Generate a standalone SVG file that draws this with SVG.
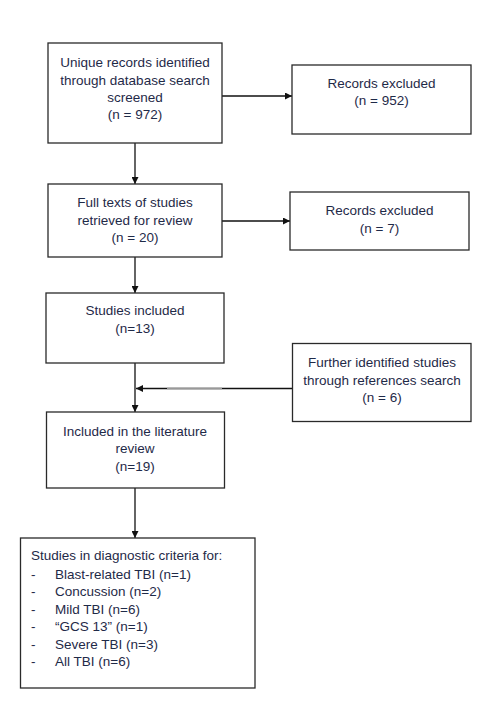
<svg xmlns="http://www.w3.org/2000/svg" width="500" height="705" viewBox="0 0 500 705">
<defs>
<style>
.box{fill:#fff;stroke:#2a2a2a;stroke-width:1.3}
text{font-family:"Liberation Sans",Arial,sans-serif;font-size:13.5px;fill:#1f2a48}
.c{text-anchor:middle}
.ln{stroke:#111;stroke-width:1.3;fill:none}
</style>
<marker id="ah" viewBox="0 0 10 10" refX="10" refY="5" markerWidth="7" markerHeight="7" markerUnits="userSpaceOnUse" orient="auto">
<path d="M0,0 L10,5 L0,10 z" fill="#111"/>
</marker>
</defs>
<rect width="500" height="705" fill="#fff"/>
<g id="connectors">
<line class="ln" x1="222" y1="96" x2="292" y2="96" marker-end="url(#ah)"/>
<line class="ln" x1="135" y1="143" x2="135" y2="184" marker-end="url(#ah)"/>
<line class="ln" x1="222" y1="221" x2="290" y2="221" marker-end="url(#ah)"/>
<line class="ln" x1="135" y1="257" x2="135" y2="293" marker-end="url(#ah)"/>
<line class="ln" x1="135" y1="363" x2="135" y2="412" marker-end="url(#ah)"/>
<line class="ln" x1="292" y1="388.5" x2="136" y2="388.5" stroke="#333" marker-end="url(#ah)"/>
<line x1="167" y1="388.5" x2="222" y2="388.5" stroke="#999" stroke-width="1.4"/>
<line class="ln" x1="135" y1="488" x2="135" y2="538" marker-end="url(#ah)"/>
</g>
<g id="n1">
<rect class="box" x="48" y="43" width="174" height="100"/>
<text class="c" x="135" y="67">Unique records identified</text>
<text class="c" x="135" y="84.5">through database search</text>
<text class="c" x="135" y="102">screened</text>
<text class="c" x="135" y="119">(n = 972)</text>
</g>
<g id="n2">
<rect class="box" x="292" y="65" width="179" height="69"/>
<text class="c" x="381.5" y="88">Records excluded</text>
<text class="c" x="381.5" y="104.5">(n = 952)</text>
</g>
<g id="n3">
<rect class="box" x="48" y="184" width="174" height="73"/>
<text class="c" x="135" y="207">Full texts of studies</text>
<text class="c" x="135" y="224.5">retrieved for review</text>
<text class="c" x="135" y="242">(n = 20)</text>
</g>
<g id="n4">
<rect class="box" x="290" y="192" width="179" height="58"/>
<text class="c" x="379.5" y="215">Records excluded</text>
<text class="c" x="379.5" y="232.5">(n = 7)</text>
</g>
<g id="n5">
<rect class="box" x="46" y="293" width="178" height="70"/>
<text class="c" x="135" y="315">Studies included</text>
<text class="c" x="135" y="333">(n=13)</text>
</g>
<g id="n6">
<rect class="box" x="292.5" y="343.5" width="178.5" height="78"/>
<text class="c" x="382" y="367">Further identified studies</text>
<text class="c" x="382" y="384.5">through references search</text>
<text class="c" x="382" y="402">(n = 6)</text>
</g>
<g id="n7">
<rect class="box" x="46.5" y="412" width="178" height="76"/>
<text class="c" x="135" y="435.5">Included in the literature</text>
<text class="c" x="135" y="453">review</text>
<text class="c" x="135" y="471">(n=19)</text>
</g>
<g id="n8">
<rect class="box" x="20.5" y="538" width="234.5" height="150"/>
<text x="31" y="560">Studies in diagnostic criteria for:</text>
<text x="31" y="578.5">-</text><text x="55" y="578.5">Blast-related TBI (n=1)</text>
<text x="31" y="596">-</text><text x="55" y="596">Concussion (n=2)</text>
<text x="31" y="613.5">-</text><text x="55" y="613.5">Mild TBI (n=6)</text>
<text x="31" y="631">-</text><text x="55" y="631">“GCS 13” (n=1)</text>
<text x="31" y="648.5">-</text><text x="55" y="648.5">Severe TBI (n=3)</text>
<text x="31" y="666">-</text><text x="55" y="666">All TBI (n=6)</text>
</g>
</svg>
